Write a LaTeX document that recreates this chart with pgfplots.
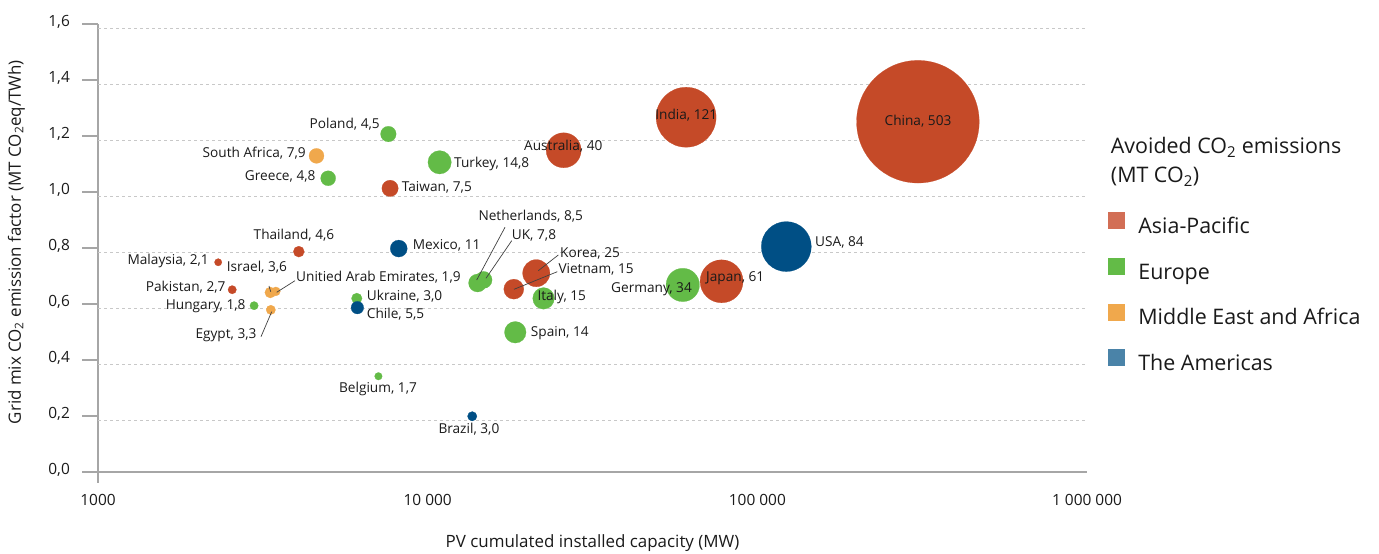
\documentclass[border=0pt]{standalone}
\usepackage{pgfplots}
\pgfplotsset{compat=1.18}
\usepackage{pgfplotstable}
\usepackage{fontspec}
\setmainfont{Open Sans}
\definecolor{asia}{HTML}{C54A28}
\definecolor{europe}{HTML}{63BB47}
\definecolor{mea}{HTML}{F0A84C}
\definecolor{amer}{HTML}{004F85}
\definecolor{asiaL}{HTML}{D26E55}
\definecolor{amerL}{HTML}{4A83A8}
\definecolor{txt}{HTML}{1A1A1A}
\definecolor{axc}{HTML}{A6A6A6}
\definecolor{gridc}{HTML}{C8C8C8}
\definecolor{lead}{HTML}{404040}

\pgfplotstableread{
name x y r
China 306900 1.251 61.3
India 60800 1.267 30.0
Japan 77900 0.681 21.5
Australia 25850 1.149 17.5
Korea 21350 0.710 13.6
Vietnam 18250 0.653 10.0
Taiwan 7690 1.013 8.2
Thailand 4065 0.787 5.5
Pakistan 2553 0.651 4.2
Malaysia 2315 0.749 3.7
}\tabAsia
\pgfplotstableread{
name x y r
Germany 59400 0.668 16.7
Turkey 10870 1.106 11.7
Italy 22460 0.620 10.8
Spain 18440 0.499 10.8
Netherlands 14170 0.675 9.0
UK 14780 0.686 8.5
Poland 7600 1.207 7.8
Greece 4990 1.049 7.5
Ukraine 6095 0.620 5.3
Hungary 2975 0.594 4.2
Belgium 7090 0.342 3.8
}\tabEurope
\pgfplotstableread{
name x y r
SouthAfrica 4600 1.129 7.5
Israel 3332 0.641 5.5
Egypt 3344 0.579 4.7
UAE 3463 0.645 4.5
}\tabMEA
\pgfplotstableread{
name x y r
USA 122400 0.805 25.0
Mexico 8170 0.798 8.5
Chile 6120 0.587 6.3
Brazil 13650 0.199 4.7
}\tabAmer

\pgfplotsset{bub/.style 2 args={only marks, mark=*, scatter,
  draw=#1, fill=#1, mark options={draw=#1, fill=#1, line width=0.2bp},
  scatter/use mapped color={draw=#1, fill=#1},
  visualization depends on={\thisrow{r} \as \rad},
  scatter/@pre marker code/.append style={/tikz/mark size=\rad bp},
  legend image code/.code={\fill[#2] (0bp,-0.3bp) rectangle (16bp,15.7bp);}}}
\tikzset{lbl/.style={font=\fontsize{13.7}{16}\selectfont, text=txt, inner sep=0pt},
  ld/.style={draw=lead, line width=0.7bp}}

\begin{document}
\begin{tikzpicture}[x=1bp,y=1bp]
\useasboundingbox (0,0) rectangle (1379,554);
\begin{axis}[
  at={(98bp,82bp)}, anchor=south west,
  scale only axis, width=989bp, height=448bp,
  xmode=log, xmin=1000, xmax=1000000, ymin=0, ymax=1.6,
  clip=false,
  axis lines=left,
  axis line style={draw=axc, line width=1.5bp, -},
  y axis line style={shorten <=-11bp},
  tick align=outside, major tick length=16bp,
  xtick={1000,10000,100000,1000000},
  xticklabels={1000,10 000,100 000,1 000 000},
  xminorticks=false, yminorticks=false,
  xtick style={draw=none},
  ytick={0,0.2,0.4,0.6,0.8,1.0,1.2,1.4,1.6},
  ytick style={draw=axc, line width=1.5bp},
  tick label style={font=\fontsize{15.5}{18}\selectfont, text=txt, inner sep=0pt},
  yticklabel style={anchor=mid east, xshift=-12bp,
    /pgf/number format/fixed, /pgf/number format/fixed zerofill,
    /pgf/number format/precision=1, /pgf/number format/use comma,
    /pgf/number format/assume math mode=true},
  xticklabel style={anchor=mid, yshift=-15bp},
  extra y ticks={0.2,0.4,0.6,0.8,1.0,1.2,1.4,1.6},
  extra y tick labels={},
  extra y tick style={grid=major, tick style={draw=none}},
  major grid style={draw=gridc, dash pattern=on 3bp off 3bp, line width=1bp, yshift=-4.5bp},
  xlabel={PV cumulated installed capacity (MW)},
  every axis x label/.style={at={(axis description cs:0.5,-0.163)}, anchor=mid,
    font=\fontsize{17}{20}\selectfont, text=txt},
  ylabel={Grid mix CO\textsubscript{2} emission factor (MT CO\textsubscript{2}eq/TWh)},
  every axis y label/.style={at={(axis description cs:-0.0808,0.513)}, rotate=90, anchor=mid,
    font=\fontsize{17}{20}\selectfont, text=txt},
  legend style={at={(axis description cs:1.0212,0.581)}, anchor=north west, draw=none, fill=none,
    font=\fontsize{21.5}{25}\selectfont, text=txt, row sep=19.5bp, inner sep=0pt, outer sep=0pt,
    nodes={inner sep=0pt, text height=16bp, text depth=5bp},
    /tikz/every odd column/.append style={column sep=14bp}},
  legend cell align=left,
]
\addplot[bub={asia}{asiaL}] table[x=x,y=y] {\tabAsia};
\addlegendentry{Asia-Pacific}
\addplot[bub={europe}{europe}] table[x=x,y=y] {\tabEurope};
\addlegendentry{Europe}
\addplot[bub={mea}{mea}] table[x=x,y=y] {\tabMEA};
\addlegendentry{Middle East and Africa}
\addplot[bub={amer}{amerL}] table[x=x,y=y] {\tabAmer};
\addlegendentry{The Americas}
\end{axis}

% legend title
\node[anchor=mid west, inner sep=0pt, text=txt, font=\fontsize{21.5}{25}\selectfont] at (1110.7,403.3) {Avoided CO\textsubscript{2} emissions};
\node[anchor=mid west, inner sep=0pt, text=txt, font=\fontsize{21.5}{25}\selectfont] at (1110.7,374) {(MT CO\textsubscript{2})};

% leader lines
\draw[ld] (269,268) -- (270.7,262.3);
\draw[ld] (295,273.3) -- (276.7,261.7);
\draw[ld] (261,217.3) -- (271.7,242.3);
\draw[ld] (505,326.7) -- (476.7,274);
\draw[ld] (511.7,313.3) -- (486,275.7);
\draw[ld] (558.3,299) -- (538.3,283.3);
\draw[ld] (557.3,282.3) -- (514,264.7);

% bubble labels
\node[lbl, anchor=mid east] at (380,428) {Poland, 4,5};
\node[lbl, anchor=mid east] at (306,399) {South Africa, 7,9};
\node[lbl, anchor=mid east] at (315.7,375.7) {Greece, 4,8};
\node[lbl, anchor=mid] at (294,316.7) {Thailand, 4,6};
\node[lbl, anchor=mid west] at (412.7,306.7) {Mexico, 11};
\node[lbl, anchor=mid west] at (401.7,364.7) {Taiwan, 7,5};
\node[lbl, anchor=mid west] at (454,389) {Turkey, 14,8};
\node[lbl, anchor=mid east] at (209,292.3) {Malaysia, 2,1};
\node[lbl, anchor=mid west] at (226.7,284.7) {Israel, 3,6};
\node[lbl, anchor=mid west] at (296,274.7) {Unitied Arab Emirates, 1,9};
\node[lbl, anchor=mid east] at (225.7,264.7) {Pakistan, 2,7};
\node[lbl, anchor=mid east] at (245.7,246.7) {Hungary, 1,8};
\node[lbl, anchor=mid east] at (256.7,218) {Egypt, 3,3};
\node[lbl, anchor=mid west] at (366.7,255.7) {Ukraine, 3,0};
\node[lbl, anchor=mid west] at (366.7,238) {Chile, 5,5};
\node[lbl, anchor=mid] at (378,164) {Belgium, 1,7};
\node[lbl, anchor=mid west] at (478.3,336.3) {Netherlands, 8,5};
\node[lbl, anchor=mid west] at (511.7,317.3) {UK, 7,8};
\node[lbl, anchor=mid west] at (560,299) {Korea, 25};
\node[lbl, anchor=mid west] at (558.3,283) {Vietnam, 15};
\node[lbl, anchor=mid west] at (524,406.3) {Australia, 40};
\node[lbl, anchor=mid] at (686.3,437.3) {India, 121};
\node[lbl, anchor=mid west] at (537.3,255.7) {Italy, 15};
\node[lbl, anchor=mid west] at (530.7,220) {Spain, 14};
\node[lbl, anchor=mid west] at (611,264) {Germany, 34};
\node[lbl, anchor=mid west] at (706,274.7) {Japan, 61};
\node[lbl, anchor=mid west] at (815,310) {USA, 84};
\node[lbl, anchor=mid] at (918,431.3) {China, 503};
\node[lbl, anchor=mid west] at (438.3,123) {Brazil, 3,0};
\end{tikzpicture}
\end{document}
